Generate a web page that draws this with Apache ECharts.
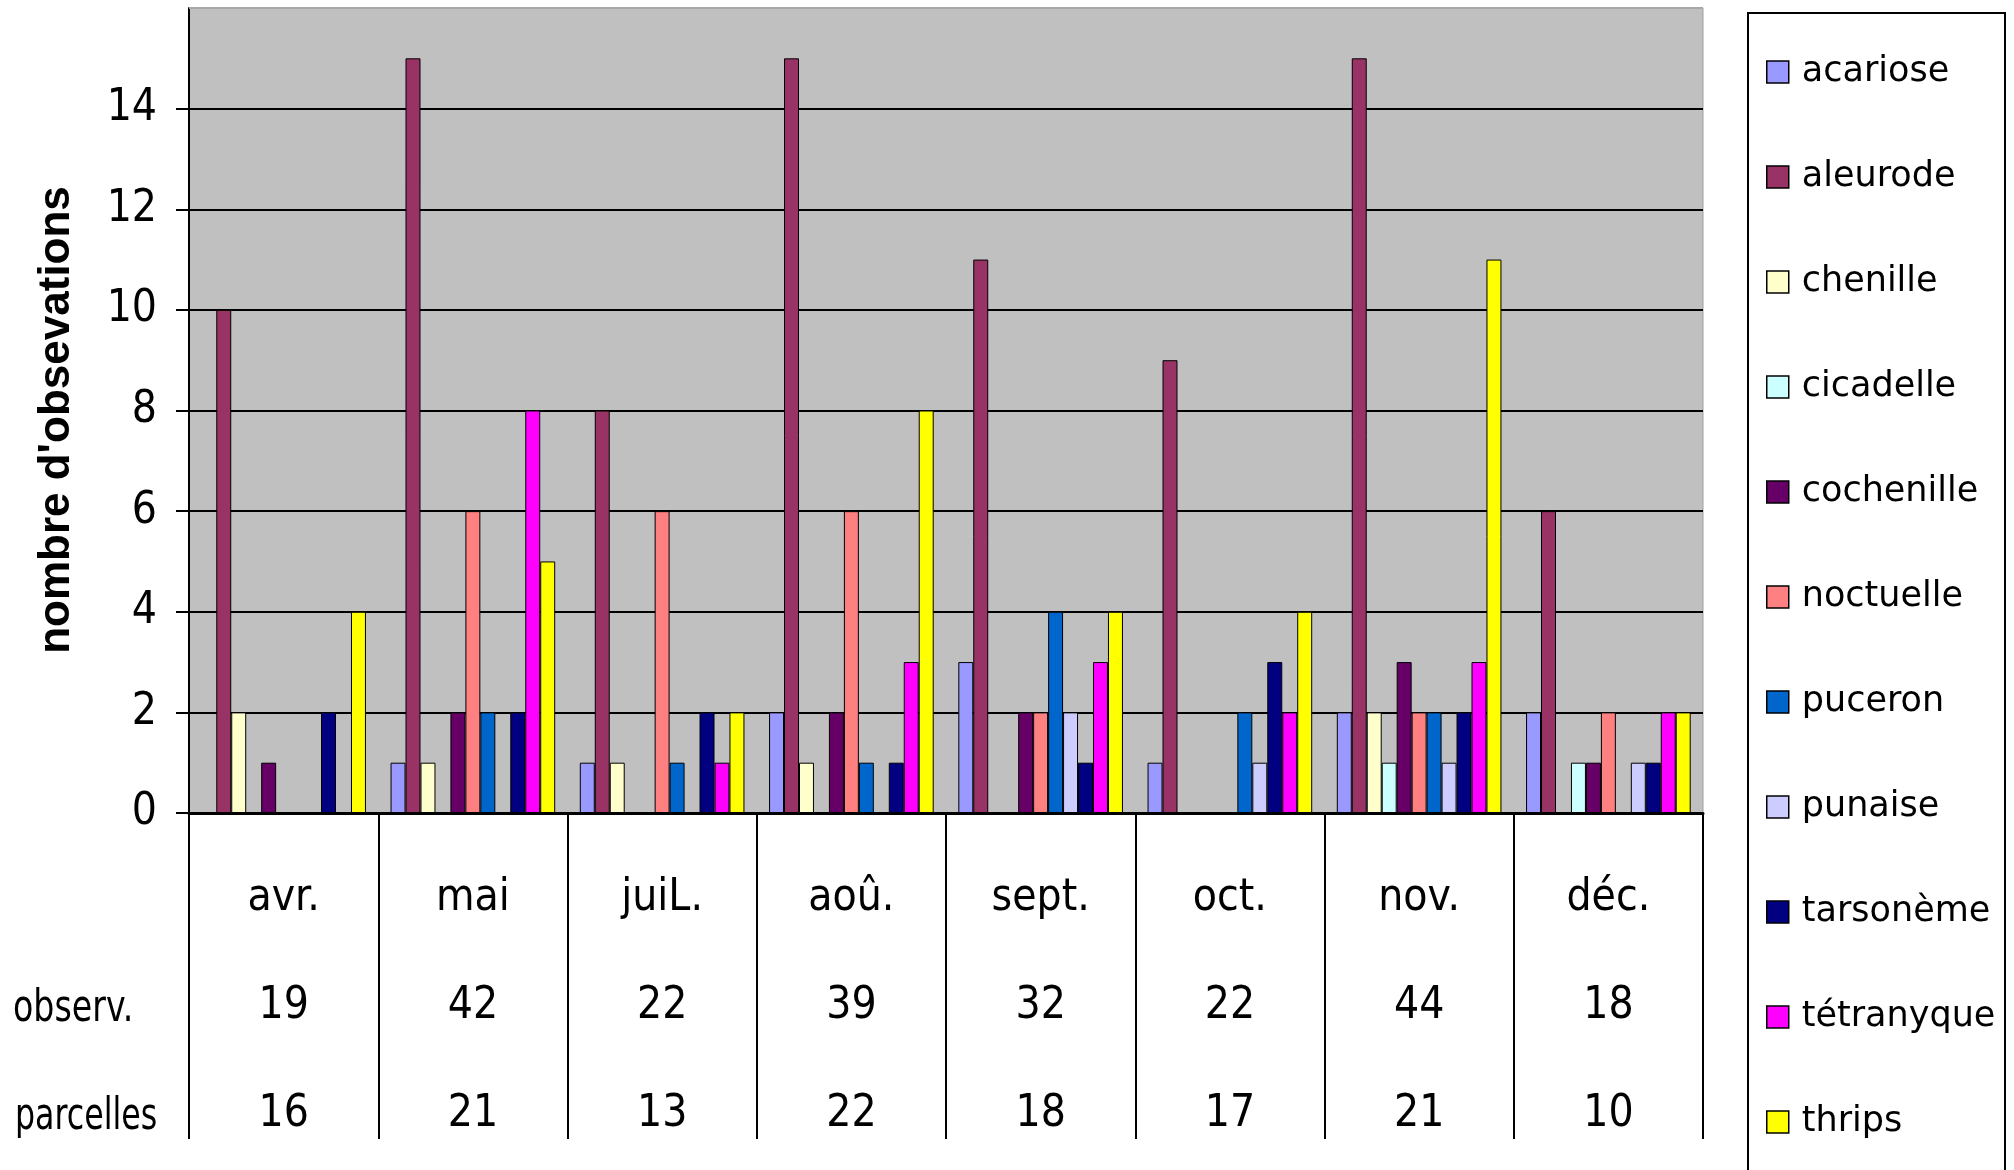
<!DOCTYPE html>
<html>
<head>
<meta charset="utf-8">
<script src="https://cdn.jsdelivr.net/npm/echarts@6/dist/echarts.min.js"></script>
<style>html,body{margin:0;padding:0;background:#fff;}#c{width:2014px;height:1170px;}</style>
</head>
<body>
<div id="c"></div>
<script>
const months = ['avr.', 'mai', 'juiL.', 'aoû.', 'sept.', 'oct.', 'nov.', 'déc.'];
const observ = [19, 42, 22, 39, 32, 22, 44, 18];
const parcelles = [16, 21, 13, 22, 18, 17, 21, 10];
const rowLabels = ['observ.', 'parcelles'];
const yTitle = "nombre d'obsevations";
const seriesNames = ['acariose', 'aleurode', 'chenille', 'cicadelle', 'cochenille', 'noctuelle', 'puceron', 'punaise', 'tarsonème', 'tétranyque', 'thrips'];
const acariose   = [0, 1, 1, 2, 3, 1, 2, 2];
const aleurode   = [10, 15, 8, 15, 11, 9, 15, 6];
const chenille   = [2, 1, 1, 1, 0, 0, 2, 0];
const cicadelle  = [0, 0, 0, 0, 0, 0, 1, 1];
const cochenille = [1, 2, 0, 2, 2, 0, 3, 1];
const noctuelle  = [0, 6, 6, 6, 2, 0, 2, 2];
const puceron    = [0, 2, 1, 1, 4, 2, 2, 0];
const punaise    = [0, 0, 0, 0, 2, 1, 1, 1];
const tarsoneme  = [2, 2, 2, 1, 1, 3, 2, 1];
const tetranyque = [0, 8, 1, 3, 3, 2, 3, 2];
const thrips     = [4, 5, 2, 8, 4, 4, 11, 2];
const yTicks = [0, 2, 4, 6, 8, 10, 12, 14];

const seriesValues = [acariose, aleurode, chenille, cicadelle, cochenille, noctuelle, puceron, punaise, tarsoneme, tetranyque, thrips];
const colors = ['#9999FF', '#993366', '#FFFFCC', '#CCFFFF', '#660066', '#FF8080', '#0066CC', '#CCCCFF', '#000080', '#FF00FF', '#FFFF00'];

const narrow = "'Liberation Sans Narrow', 'DejaVu Sans Condensed', sans-serif";
const chart = echarts.init(document.getElementById('c'), null, {renderer: 'canvas'});

const option = {
  animation: false,
  backgroundColor: '#ffffff',
  color: colors,
  grid: {left: 189, right: 311, top: 8, bottom: 357, show: true, backgroundColor: '#C0C0C0', borderColor: '#A0A0A0', borderWidth: 1},
  legend: {
    orient: 'vertical', left: 1748, top: 13,
    padding: [41, 7, 10, 18],
    itemWidth: 22, itemHeight: 22, itemGap: 69,
    icon: 'rect',
    itemStyle: {borderColor: '#000', borderWidth: 1.5},
    textStyle: {fontFamily: "'DejaVu Sans', Verdana, sans-serif", fontSize: 35, lineHeight: 36, color: '#000', padding: [0, 0, 0, 8]},
    data: seriesNames
  },
  xAxis: {
    type: 'category', data: months,
    axisLine: {show: true, lineStyle: {color: '#000', width: 3}},
    axisTick: {show: true, length: 326, lineStyle: {color: '#000', width: 2}},
    axisLabel: {
      margin: 32, interval: 0,
      formatter: (v, i) => '{m|' + v + '}\n{o|' + observ[i] + '}\n{p|' + parcelles[i] + '}',
      rich: {
        m: {fontFamily: narrow, fontSize: 44, lineHeight: 108, color: '#000'},
        o: {fontFamily: narrow, fontSize: 44, lineHeight: 108, color: '#000'},
        p: {fontFamily: narrow, fontSize: 44, lineHeight: 108, color: '#000'}
      }
    },
    splitLine: {show: false}
  },
  yAxis: {
    type: 'value', min: 0, max: 16, interval: 2,
    axisLine: {show: true, lineStyle: {color: '#000', width: 2}},
    axisTick: {show: true, length: 13, lineStyle: {color: '#000', width: 2}},
    axisLabel: {margin: 32, fontFamily: narrow, fontSize: 44, color: '#000', showMaxLabel: false, padding: [6, 0, 0, 0],
      formatter: v => yTicks.indexOf(v) >= 0 ? String(v) : ''},
    splitLine: {show: true, lineStyle: {color: '#000', width: 2}}
  },
  graphic: [
    {type: 'rect', z: -10, shape: {x: 1748, y: 13, width: 257, height: 1200}, style: {fill: '#fff', stroke: '#000', lineWidth: 2}},
    {type: 'line', z: 100, shape: {x1: 189, y1: 8, x2: 1703, y2: 8}, style: {stroke: '#A8A8A8', lineWidth: 2}},
    {type: 'text', x: 57, y: 420, rotation: Math.PI / 2,
      style: {text: yTitle, fontFamily: "'Liberation Sans', Arial, sans-serif", fontWeight: 'bold', fontSize: 44, fill: '#000', align: 'center', verticalAlign: 'middle'}},
    {type: 'text', x: 13, y: 1010, scaleX: 0.84,
      style: {text: rowLabels[0], fontFamily: narrow, fontSize: 44, fill: '#000', align: 'left', verticalAlign: 'middle'}},
    {type: 'text', x: 15, y: 1118, scaleX: 0.8,
      style: {text: rowLabels[1], fontFamily: narrow, fontSize: 44, fill: '#000', align: 'left', verticalAlign: 'middle'}}
  ],
  series: seriesNames.map((n, k) => ({
    name: n, type: 'bar',
    barGap: '0%', barCategoryGap: '13%',
    itemStyle: {color: colors[k], borderColor: '#000', borderWidth: 1},
    data: seriesValues[k].map(v => v === 0 ? null : v)
  }))
};
chart.setOption(option);
</script>
</body>
</html>
